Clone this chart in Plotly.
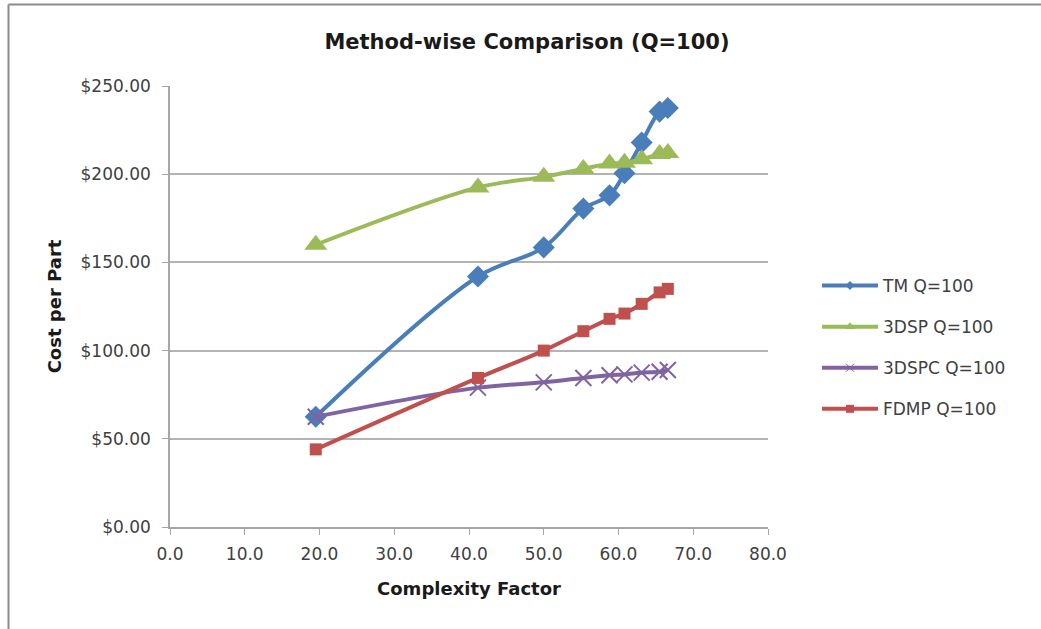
import plotly.graph_objects as go

complexity = [19.5, 41.2, 50.0, 55.3, 58.8, 60.8, 63.1, 65.5, 66.6]
tm = [62.5, 142.0, 158.5, 180.5, 188.0, 200.5, 218.0, 235.5, 237.5]
sp3d = [160.0, 192.5, 198.5, 203.0, 206.0, 206.5, 208.5, 211.5, 212.0]
spc3d = [62.5, 79.0, 82.0, 84.5, 86.0, 86.5, 87.5, 88.0, 89.0]
fdmp = [44.0, 84.5, 100.0, 111.0, 118.0, 121.0, 126.5, 133.0, 135.0]

series_names = ["TM Q=100", "3DSP Q=100", "3DSPC Q=100", "FDMP Q=100"]
series_vals = [tm, sp3d, spc3d, fdmp]
colors = ["#4a7ebb", "#9bbb59", "#8064a2", "#c0504d"]
symbols = ["diamond", "triangle-up", "x-thin", "square"]
msizes = [17, 20, 16, 12]
legend_msizes = [7, 9, 8, 8]

x_ticks = [0, 10, 20, 30, 40, 50, 60, 70, 80]
y_ticks = [0, 50, 100, 150, 200, 250]

FONT = "'DejaVu Sans', sans-serif"

fig = go.Figure()
for i, (name, vals) in enumerate(zip(series_names, series_vals)):
    marker = dict(symbol=symbols[i], size=msizes[i], color=colors[i])
    if symbols[i] == "x-thin":
        marker["line"] = dict(color=colors[i], width=2)
    fig.add_trace(go.Scatter(
        x=complexity, y=vals, name=name, mode="lines+markers",
        line=dict(color=colors[i], width=4, shape="spline", smoothing=1.0),
        marker=marker, legendgroup=name, showlegend=False,
    ))
# legend entries (smaller markers, like the reference legend)
for i, name in enumerate(series_names):
    lm = dict(symbol=symbols[i], size=legend_msizes[i], color=colors[i])
    if symbols[i] == "x-thin":
        lm["line"] = dict(color=colors[i], width=1)
    fig.add_trace(go.Scatter(
        x=[None], y=[None], name=name, mode="lines+markers",
        line=dict(color=colors[i], width=4), marker=lm,
        legendgroup=name, showlegend=True,
    ))

fig.update_layout(
    width=1041, height=629,
    paper_bgcolor="white", plot_bgcolor="white",
    margin=dict(l=170, r=273, t=86, b=102),
    font=dict(family=FONT, color="#404040", size=17),
    title=dict(text="<b>Method-wise Comparison (Q=100)</b>", x=527/1041, xanchor="center",
               y=1 - 42/629, yanchor="middle",
               font=dict(family=FONT, size=21, color="#1a1a1a")),
    xaxis=dict(range=[0, 80], tickvals=x_ticks, ticktext=[f"{v:.1f}" for v in x_ticks],
               showgrid=False, zeroline=False, showline=True, linecolor="#a6a6a6", linewidth=1.5,
               ticks="outside", ticklen=6, tickcolor="#a6a6a6", ticklabelstandoff=5,
               tickfont=dict(size=17, color="#404040"),
               title=dict(text="<b>Complexity Factor</b>", font=dict(size=18, color="#1a1a1a"), standoff=19)),
    yaxis=dict(range=[0, 250], tickvals=y_ticks, ticktext=[f"${v:.2f}" for v in y_ticks],
               showgrid=True, gridcolor="#b3b3b3", gridwidth=1.5, zeroline=False,
               showline=True, linecolor="#a6a6a6", linewidth=1.5,
               ticks="outside", ticklen=6, tickcolor="#a6a6a6", ticklabelstandoff=8,
               tickfont=dict(size=17, color="#404040"),
               title=dict(text="<b>Cost per Part</b>", font=dict(size=18, color="#1a1a1a"), standoff=14)),
    legend=dict(xref="container", yref="container", x=817/1041, y=(629 - 268)/629,
                yanchor="top", xanchor="left", itemwidth=56,
                font=dict(size=17, color="#404040"), tracegroupgap=16,
                bgcolor="rgba(0,0,0,0)"),
    showlegend=True,
)

# chart frame (top and left borders visible)
fig.add_shape(type="line", xref="x domain", yref="y domain",
              x0=(8.5-170)/598, x1=(1041-170)/598, y0=(527-4.5)/441, y1=(527-4.5)/441,
              line=dict(color="#8c8c8c", width=2))
fig.add_shape(type="line", xref="x domain", yref="y domain",
              x0=(8.5-170)/598, x1=(8.5-170)/598, y0=(527-4.5)/441, y1=(527-629)/441,
              line=dict(color="#8c8c8c", width=2))

fig.write_html("out.html")
